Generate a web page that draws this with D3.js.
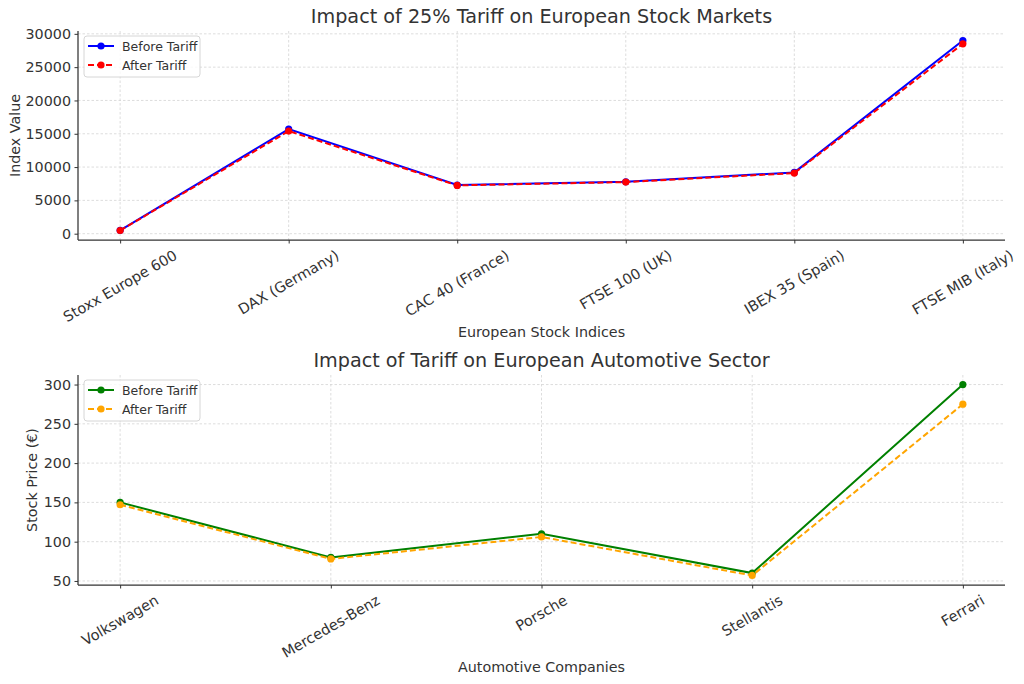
<!DOCTYPE html>
<html><head><meta charset="utf-8">
<script src="https://cdn.jsdelivr.net/npm/d3@7"></script>
<style>body{margin:0;background:#fff}svg{display:block}text{font-family:"DejaVu Sans",sans-serif;fill:#333}</style>
</head><body><svg id="c" width="1024" height="684"></svg>
<script>
const indices = ["Stoxx Europe 600","DAX (Germany)","CAC 40 (France)","FTSE 100 (UK)","IBEX 35 (Spain)","FTSE MIB (Italy)"];
const indexBefore = [500, 15700, 7300, 7800, 9200, 29000];
const indexAfter  = [480, 15400, 7250, 7750, 9100, 28500];
const indexTicks = [0,5000,10000,15000,20000,25000,30000];

const companies = ["Volkswagen","Mercedes-Benz","Porsche","Stellantis","Ferrari"];
const autoBefore = [150, 80, 110, 60, 300];
const autoAfter  = [147, 78, 106, 57, 275];
const autoTicks = [50,100,150,200,250,300];

const svg = d3.select("#c");

function panel(o){
  const g = svg.append("g");
  const n = o.cats.length;
  const x = d3.scaleLinear().domain([-0.05*(n-1), (n-1)*1.05]).range([o.left, o.right]);
  const all = o.series.flatMap(s=>s.values);
  const lo = d3.min(all), hi = d3.max(all), m = (hi-lo)*0.05;
  const y = d3.scaleLinear().domain([lo-m, hi+m]).range([o.bottom, o.top]);
  // grid
  g.append("g").selectAll("line").data(o.ticks).join("line")
    .attr("x1",o.left).attr("x2",o.right).attr("y1",d=>y(d)).attr("y2",d=>y(d))
    .attr("stroke","#d4d4d4").attr("stroke-width",0.8).attr("stroke-dasharray","2.5,2");
  g.append("g").selectAll("line").data(d3.range(n)).join("line")
    .attr("x1",d=>x(d)).attr("x2",d=>x(d)).attr("y1",o.top).attr("y2",o.bottom)
    .attr("stroke","#d4d4d4").attr("stroke-width",0.8).attr("stroke-dasharray","2.5,2");
  // axes
  const ya = g.append("g").attr("transform",`translate(${o.left},0)`)
    .call(d3.axisLeft(y).tickValues(o.ticks).tickSize(3.5).tickPadding(3.5).tickFormat(d3.format("d")));
  const xa = g.append("g").attr("transform",`translate(0,${o.bottom})`)
    .call(d3.axisBottom(x).tickValues(d3.range(n)).tickSize(3.5).tickFormat(""));
  [ya,xa].forEach(a=>{a.select(".domain").attr("stroke","#333").attr("stroke-width",1.25);
    a.selectAll(".tick line").attr("stroke","#333").attr("stroke-width",1);});
  ya.select(".domain").attr("d",`M0,${o.bottom}V${o.top}`);
  xa.select(".domain").attr("d",`M${o.left},0H${o.right}`);
  ya.selectAll(".tick text").attr("font-size",14.3).attr("fill","#333").attr("font-family","DejaVu Sans");
  // rotated x labels (rotation 30, ha center, va top)
  const lab = g.append("g");
  o.cats.forEach((c,i)=>{
    const t = lab.append("text").text(c).attr("font-size",14.5).attr("text-anchor","middle")
      .attr("dominant-baseline","central");
    const w = t.node().getComputedTextLength(), h = 16;
    const bh = w*0.5 + h*0.866;
    const cx = x(i), cy = o.bottom + 3.5 + 3.5 + bh/2;
    t.attr("transform",`translate(${cx},${cy}) rotate(-30)`);
  });
  // titles
  g.append("text").text(o.title).attr("x",(o.left+o.right)/2).attr("y",o.titleY)
    .attr("text-anchor","middle").attr("font-size",19.2);
  g.append("text").text(o.xlabel).attr("x",(o.left+o.right)/2).attr("y",o.xlabY)
    .attr("text-anchor","middle").attr("font-size",14.3);
  g.append("text").text(o.ylabel).attr("transform",`translate(${o.ylabX},${(o.top+o.bottom)/2}) rotate(-90)`)
    .attr("text-anchor","middle").attr("font-size",14.3);
  // series
  o.series.forEach(s=>{
    const line = d3.line().x((d,i)=>x(i)).y(d=>y(d));
    g.append("path").datum(s.values).attr("d",line).attr("fill","none")
      .attr("stroke",s.color).attr("stroke-width",2).attr("stroke-dasharray",s.dash||null);
    g.append("g").selectAll("circle").data(s.values).join("circle")
      .attr("cx",(d,i)=>x(i)).attr("cy",d=>y(d)).attr("r",3.6).attr("fill",s.color);
  });
  // legend
  const lg = g.append("g").attr("transform",`translate(${o.left+6},${o.top+5})`);
  lg.append("rect").attr("width",116).attr("height",41).attr("rx",3)
    .attr("fill","rgba(255,255,255,0.8)").attr("stroke","#d6d6d6").attr("stroke-width",1);
  o.series.forEach((s,i)=>{
    const yy = 10 + i*19;
    lg.append("line").attr("x1",4).attr("x2",30).attr("y1",yy).attr("y2",yy)
      .attr("stroke",s.color).attr("stroke-width",2).attr("stroke-dasharray",s.dash||null);
    lg.append("circle").attr("cx",17).attr("cy",yy).attr("r",3.6).attr("fill",s.color);
    lg.append("text").text(s.name).attr("x",38).attr("y",yy).attr("dominant-baseline","central")
      .attr("font-size",12.5);
  });
}

panel({cats:indices, ticks:indexTicks, left:78, right:1005, top:31, bottom:240,
  title:"Impact of 25% Tariff on European Stock Markets", titleY:23,
  xlabel:"European Stock Indices", xlabY:337, ylabel:"Index Value", ylabX:20,
  series:[{name:"Before Tariff",values:indexBefore,color:"#0000ff"},
          {name:"After Tariff",values:indexAfter,color:"#ff0000",dash:"6,3"}]});

panel({cats:companies, ticks:autoTicks, left:78, right:1005, top:375, bottom:585,
  title:"Impact of Tariff on European Automotive Sector", titleY:367,
  xlabel:"Automotive Companies", xlabY:672, ylabel:"Stock Price (€)", ylabX:37,
  series:[{name:"Before Tariff",values:autoBefore,color:"#008000"},
          {name:"After Tariff",values:autoAfter,color:"#ffa500",dash:"6,3"}]});
</script></body></html>
